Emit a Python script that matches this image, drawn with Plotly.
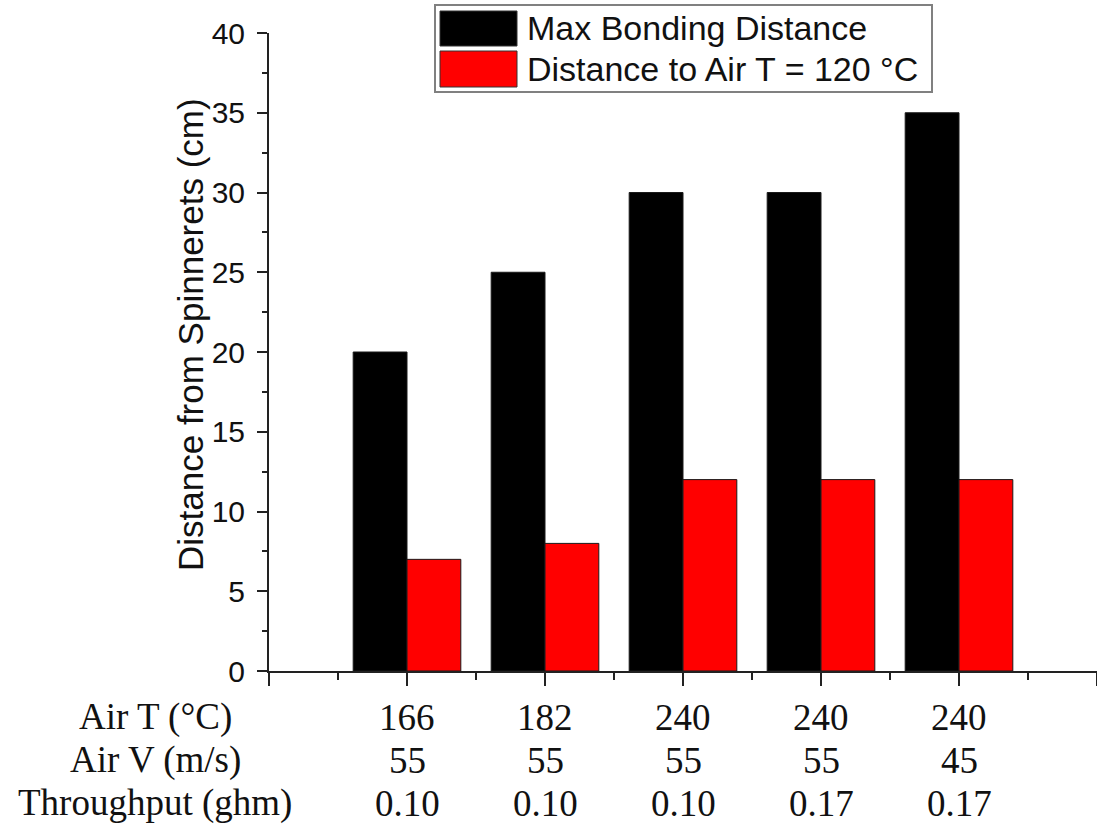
import plotly.graph_objects as go

# ---- data ----
categories = [1, 2, 3, 4, 5]
max_bonding = [20, 25, 30, 30, 35]
dist_120 = [7, 8, 12, 12, 12]
series_names = ["Max Bonding Distance", "Distance to Air T = 120 °C"]
series_colors = ["#000000", "#ff0000"]
row_labels = ["Air T (°C)", "Air V (m/s)", "Throughput (ghm)"]
air_t = ["166", "182", "240", "240", "240"]
air_v = ["55", "55", "55", "55", "45"]
throughput = ["0.10", "0.10", "0.10", "0.17", "0.17"]
y_ticks = [0, 5, 10, 15, 20, 25, 30, 35, 40]

W, H = 1097, 830
L, R, T, B = 269, 0, 33, 159
PW, PH = W - L - R, H - T - B


def px_x(x):
    return (x - L) / PW


def px_y(y):
    return (H - B - y) / PH


fig = go.Figure()
for name, vals, col in zip(series_names, [max_bonding, dist_120], series_colors):
    fig.add_trace(go.Bar(
        x=categories, y=vals, name=name,
        marker=dict(color=col, line=dict(color="#1a1a1a", width=1)),
        showlegend=False,
    ))

fig.update_layout(
    width=W, height=H,
    margin=dict(l=L, r=R, t=T, b=B),
    plot_bgcolor="white", paper_bgcolor="white",
    barmode="group", bargap=0.22, bargroupgap=0,
    font=dict(family="Liberation Sans, Arial", color="#111"),
)
fig.update_xaxes(
    range=[0, 6], tickmode="linear", tick0=0, dtick=1,
    showticklabels=False, ticks="outside", ticklen=13, tickwidth=2, tickcolor="#222",
    minor=dict(dtick=0.5, tick0=0, ticks="outside", ticklen=7, tickwidth=2, tickcolor="#222", showgrid=False),
    showline=True, linewidth=2, linecolor="#222", showgrid=False, zeroline=False,
)
fig.update_yaxes(
    range=[0, 40], tickmode="array", tickvals=y_ticks,
    ticks="outside", ticklen=10, tickwidth=2, tickcolor="#222",
    ticklabelstandoff=6,
    tickfont=dict(size=30, family="Liberation Sans, Arial", color="#111"),
    minor=dict(dtick=2.5, tick0=0, ticks="outside", ticklen=5, tickwidth=2, tickcolor="#222", showgrid=False),
    showline=True, linewidth=2, linecolor="#222", showgrid=False, zeroline=False,
)

ann = []
# y-axis title
ann.append(dict(text="Distance from Spinnerets (cm)", textangle=-90,
                xref="paper", yref="paper", x=px_x(190), y=px_y(335),
                xanchor="center", yanchor="middle", showarrow=False,
                font=dict(size=35, family="Liberation Sans, Arial", color="#111")))

# bottom table
row_y = [717, 760, 803]
rows = [air_t, air_v, throughput]
serif = dict(size=37, family="Liberation Serif, Times New Roman", color="#111")
for lab, yy, vals in zip(row_labels, row_y, rows):
    ann.append(dict(text=lab, xref="paper", yref="paper", x=px_x(155), y=px_y(yy),
                    xanchor="center", yanchor="middle", showarrow=False, font=serif))
    for c, v in zip(categories, vals):
        ann.append(dict(text=v, xref="x", yref="paper", x=c, y=px_y(yy),
                        xanchor="center", yanchor="middle", showarrow=False, font=serif))

# legend (drawn manually to match the large swatches)
shapes = []
shapes.append(dict(type="rect", xref="paper", yref="paper",
                   x0=px_x(435), x1=px_x(932), y0=px_y(92), y1=px_y(5),
                   line=dict(color="#808080", width=2), fillcolor="white", layer="above"))
sw_rows = [(11, 46), (51, 87)]
for (y0, y1), name, col in zip(sw_rows, series_names, series_colors):
    shapes.append(dict(type="rect", xref="paper", yref="paper",
                       x0=px_x(440), x1=px_x(517), y0=px_y(y1), y1=px_y(y0),
                       line=dict(color="#333", width=1), fillcolor=col, layer="above"))
    ann.append(dict(text=name, xref="paper", yref="paper", x=px_x(525), y=px_y((y0 + y1) / 2),
                    xanchor="left", yanchor="middle", showarrow=False,
                    font=dict(size=34, family="Liberation Sans, Arial", color="#111")))

fig.update_layout(annotations=ann, shapes=shapes)
fig.write_html("out.html")
